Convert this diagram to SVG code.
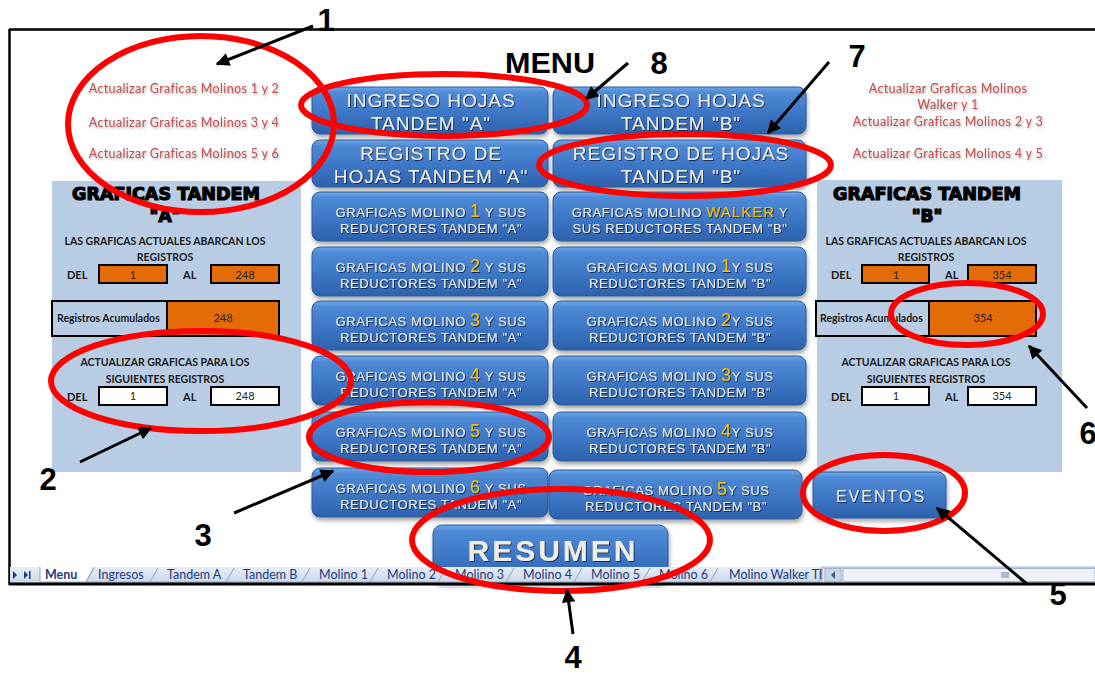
<svg xmlns="http://www.w3.org/2000/svg" width="1095" height="673" viewBox="0 0 1095 673">
<style>
.bg{fill:#ffffff}
.frame{stroke:#000;fill:none}
.panel{fill:#b8cce4}
.link{font-family:Lato,"Liberation Sans",sans-serif;font-size:12.5px;fill:#c0504d;letter-spacing:0.35px;text-anchor:middle;filter:url(#lshadow)}
.ph{font-family:"DejaVu Sans","Liberation Sans",sans-serif;font-weight:bold;font-size:17px;fill:#000;stroke:#000;stroke-width:1.2;text-anchor:middle}
.pt{font-family:Lato,"Liberation Sans",sans-serif;font-weight:bold;font-size:10.5px;fill:#1a1a1a;text-anchor:middle}
.pl{font-family:Lato,"Liberation Sans",sans-serif;font-weight:bold;font-size:11px;fill:#1a1a1a}
.ra{font-family:Lato,"Liberation Sans",sans-serif;font-weight:bold;font-size:10.5px;fill:#1a1a1a}
.num{font-family:Lato,"Liberation Sans",sans-serif;font-size:11px;fill:#222;text-anchor:middle}
.org{fill:#e36c09;stroke:#000;stroke-width:2}
.wht{fill:#fff;stroke:#000;stroke-width:2}
.lbx{fill:#b8cce4;stroke:#000;stroke-width:2}
.btn rect{fill:url(#bgrad);stroke:#2a5a9e;stroke-width:1;filter:url(#bshadow)}
.bt{font-family:"Liberation Sans",Arial,sans-serif;font-size:13px;letter-spacing:0.6px;fill:#eeeee6;text-anchor:middle;filter:url(#tshadow)}
.bb{font-family:"Liberation Sans",Arial,sans-serif;font-size:19px;letter-spacing:1px;fill:#eeeee6;text-anchor:middle;filter:url(#tshadow)}
.ev{font-family:"Liberation Sans",Arial,sans-serif;font-size:16px;letter-spacing:2px;fill:#eeeee6;text-anchor:middle;filter:url(#tshadow)}
.rs{font-family:"Liberation Sans",Arial,sans-serif;font-size:30px;font-weight:bold;letter-spacing:3px;fill:#eeeee6;text-anchor:middle;filter:url(#tshadow)}
.y{fill:#f2c200;font-size:18px}
.w{fill:#f2c200;font-size:15px;letter-spacing:1px}
.ell{fill:none;stroke:#ff0000;stroke-width:6}
.arr{stroke:#000;stroke-width:3;fill:none;marker-end:url(#ah)}
.lab{font-family:"Liberation Sans",Arial,sans-serif;font-weight:bold;font-size:31px;fill:#000;text-anchor:middle}
.tab{font-family:Lato,"Liberation Sans",sans-serif;font-size:12.5px;fill:#1f3b78}
.sep{stroke:#8ea4c4;stroke-width:1;fill:none}
</style>
<defs>
<linearGradient id="bgrad" x1="0" y1="0" x2="0" y2="1">
<stop offset="0" stop-color="#6ea6e6"/>
<stop offset="0.12" stop-color="#4f8ad6"/>
<stop offset="0.6" stop-color="#3b74c4"/>
<stop offset="1" stop-color="#2d62ad"/>
</linearGradient>
<linearGradient id="tabg" x1="0" y1="0" x2="0" y2="1">
<stop offset="0" stop-color="#e6edf7"/>
<stop offset="1" stop-color="#c9d7ea"/>
</linearGradient>
<filter id="bshadow" x="-10%" y="-20%" width="120%" height="150%">
<feDropShadow dx="1" dy="3" stdDeviation="2" flood-color="#000" flood-opacity="0.35"/>
</filter>
<filter id="tshadow" x="-10%" y="-30%" width="120%" height="160%">
<feDropShadow dx="1" dy="1" stdDeviation="0.7" flood-color="#10243f" flood-opacity="0.85"/>
</filter>
<filter id="lshadow" x="-10%" y="-30%" width="120%" height="160%">
<feDropShadow dx="1" dy="1.5" stdDeviation="0.8" flood-color="#777" flood-opacity="0.6"/>
</filter>
<marker id="ah" viewBox="0 0 10 10" refX="9" refY="5" markerWidth="5.5" markerHeight="4.5" orient="auto" markerUnits="strokeWidth">
<path d="M0,0 L10,5 L0,10 z" fill="#000"/>
</marker>
</defs>

<rect class="bg" x="0" y="0" width="1095" height="673"/>

<!-- sheet frame -->
<g id="frame">
<line class="frame" x1="9" y1="29.5" x2="1095" y2="29.5" stroke-width="2.5"/>
<line class="frame" x1="9.5" y1="29" x2="9.5" y2="585" stroke-width="2.5"/>
</g>

<!-- title -->
<g id="title">
<text x="550" y="73" font-family="'Liberation Sans',Arial,sans-serif" font-weight="bold" font-size="29" text-anchor="middle" textLength="90" lengthAdjust="spacingAndGlyphs">MENU</text>
</g>

<!-- links left -->
<g id="links-left">
<text class="link" x="184" y="93">Actualizar Graficas Molinos 1 y 2</text>
<text class="link" x="184" y="127">Actualizar Graficas Molinos 3 y 4</text>
<text class="link" x="184" y="158">Actualizar Graficas Molinos 5 y 6</text>
</g>
<!-- links right -->
<g id="links-right">
<text class="link" x="948" y="93">Actualizar Graficas Molinos</text>
<text class="link" x="948" y="109">Walker y 1</text>
<text class="link" x="948" y="126">Actualizar Graficas Molinos 2 y 3</text>
<text class="link" x="948" y="158">Actualizar Graficas Molinos 4 y 5</text>
</g>

<!-- left panel -->
<g id="panel-a">
<rect class="panel" x="52" y="181" width="249" height="291"/>
<text class="ph" x="166" y="200" textLength="188" lengthAdjust="spacingAndGlyphs">GRAFICAS TANDEM</text>
<text class="ph" x="165" y="222">"A"</text>
<text class="pt" x="165" y="245">LAS GRAFICAS ACTUALES ABARCAN LOS</text>
<text class="pt" x="165" y="261">REGISTROS</text>
<text class="pl" x="67" y="279">DEL</text>
<rect class="org" x="99" y="265" width="68" height="18"/>
<text class="num" x="133" y="279">1</text>
<text class="pl" x="183" y="279">AL</text>
<rect class="org" x="211" y="265" width="68" height="18"/>
<text class="num" x="245" y="279">248</text>
<rect class="lbx" x="52" y="301" width="115" height="35"/>
<rect class="org" x="167" y="301" width="112" height="35"/>
<text class="ra" x="57" y="322">Registros Acumulados</text>
<text class="num" x="223" y="322">248</text>
<text class="pt" x="165" y="366">ACTUALIZAR GRAFICAS PARA LOS</text>
<text class="pt" x="165" y="383">SIGUIENTES REGISTROS</text>
<text class="pl" x="67" y="401">DEL</text>
<rect class="wht" x="99" y="387" width="68" height="18"/>
<text class="num" x="133" y="400">1</text>
<text class="pl" x="183" y="401">AL</text>
<rect class="wht" x="211" y="387" width="68" height="18"/>
<text class="num" x="245" y="400">248</text>
</g>

<!-- right panel -->
<g id="panel-b">
<rect class="panel" x="817" y="180" width="245" height="292"/>
<text class="ph" x="927" y="200" textLength="188" lengthAdjust="spacingAndGlyphs">GRAFICAS TANDEM</text>
<text class="ph" x="927" y="222">"B"</text>
<text class="pt" x="926" y="245">LAS GRAFICAS ACTUALES ABARCAN LOS</text>
<text class="pt" x="926" y="261">REGISTROS</text>
<text class="pl" x="831" y="279">DEL</text>
<rect class="org" x="862" y="265" width="67" height="18"/>
<text class="num" x="896" y="279">1</text>
<text class="pl" x="945" y="279">AL</text>
<rect class="org" x="968" y="265" width="68" height="18"/>
<text class="num" x="1002" y="279">354</text>
<rect class="lbx" x="816" y="301" width="113" height="35"/>
<rect class="org" x="929" y="301" width="107" height="35"/>
<text class="ra" x="820" y="322">Registros Acumulados</text>
<text class="num" x="983" y="322">354</text>
<text class="pt" x="926" y="366">ACTUALIZAR GRAFICAS PARA LOS</text>
<text class="pt" x="926" y="383">SIGUIENTES REGISTROS</text>
<text class="pl" x="831" y="401">DEL</text>
<rect class="wht" x="862" y="387" width="67" height="18"/>
<text class="num" x="896" y="400">1</text>
<text class="pl" x="945" y="401">AL</text>
<rect class="wht" x="968" y="387" width="68" height="18"/>
<text class="num" x="1002" y="400">354</text>
</g>

<!-- buttons -->
<g id="btn-ingreso-a" class="btn"><rect x="312" y="87" width="236" height="47" rx="8"/>
<text class="bb" x="431" y="107">INGRESO HOJAS</text><text class="bb" x="431" y="130">TANDEM "A"</text></g>
<g id="btn-ingreso-b" class="btn"><rect x="553" y="87" width="253" height="47" rx="8"/>
<text class="bb" x="681" y="107">INGRESO HOJAS</text><text class="bb" x="681" y="130">TANDEM "B"</text></g>

<g id="btn-registro-a" class="btn"><rect x="312" y="140" width="236" height="47" rx="8"/>
<text class="bb" x="431" y="160">REGISTRO DE</text><text class="bb" x="431" y="183">HOJAS TANDEM "A"</text></g>
<g id="btn-registro-b" class="btn"><rect x="553" y="140" width="253" height="47" rx="8"/>
<text class="bb" x="681" y="160">REGISTRO DE HOJAS</text><text class="bb" x="681" y="183">TANDEM "B"</text></g>

<g id="btn-m1-a" class="btn"><rect x="312" y="192" width="236" height="49" rx="8"/>
<text class="bt" x="431" y="217">GRAFICAS MOLINO <tspan class="y">1</tspan> Y SUS</text><text class="bt" x="431" y="233">REDUCTORES TANDEM "A"</text></g>
<g id="btn-walker-b" class="btn"><rect x="553" y="192" width="253" height="49" rx="8"/>
<text class="bt" x="680" y="217">GRAFICAS MOLINO <tspan class="w">WALKER</tspan> Y</text><text class="bt" x="680" y="233">SUS REDUCTORES  TANDEM "B"</text></g>

<g id="btn-m2-a" class="btn"><rect x="312" y="247" width="236" height="49" rx="8"/>
<text class="bt" x="431" y="272">GRAFICAS MOLINO <tspan class="y">2</tspan> Y SUS</text><text class="bt" x="431" y="288">REDUCTORES TANDEM "A"</text></g>
<g id="btn-m1-b" class="btn"><rect x="553" y="247" width="253" height="49" rx="8"/>
<text class="bt" x="680" y="272">GRAFICAS MOLINO <tspan class="y">1</tspan>Y SUS</text><text class="bt" x="680" y="288">REDUCTORES  TANDEM "B"</text></g>

<g id="btn-m3-a" class="btn"><rect x="312" y="301" width="236" height="49" rx="8"/>
<text class="bt" x="431" y="326">GRAFICAS MOLINO <tspan class="y">3</tspan> Y SUS</text><text class="bt" x="431" y="342">REDUCTORES TANDEM "A"</text></g>
<g id="btn-m2-b" class="btn"><rect x="553" y="301" width="253" height="49" rx="8"/>
<text class="bt" x="680" y="326">GRAFICAS MOLINO <tspan class="y">2</tspan>Y SUS</text><text class="bt" x="680" y="342">REDUCTORES  TANDEM "B"</text></g>

<g id="btn-m4-a" class="btn"><rect x="312" y="356" width="236" height="49" rx="8"/>
<text class="bt" x="431" y="381">GRAFICAS MOLINO <tspan class="y">4</tspan> Y SUS</text><text class="bt" x="431" y="397">REDUCTORES TANDEM "A"</text></g>
<g id="btn-m3-b" class="btn"><rect x="553" y="356" width="253" height="49" rx="8"/>
<text class="bt" x="680" y="381">GRAFICAS MOLINO <tspan class="y">3</tspan>Y SUS</text><text class="bt" x="680" y="397">REDUCTORES  TANDEM "B"</text></g>

<g id="btn-m5-a" class="btn"><rect x="312" y="412" width="236" height="49" rx="8"/>
<text class="bt" x="431" y="437">GRAFICAS MOLINO <tspan class="y">5</tspan> Y SUS</text><text class="bt" x="431" y="453">REDUCTORES TANDEM "A"</text></g>
<g id="btn-m4-b" class="btn"><rect x="553" y="412" width="253" height="49" rx="8"/>
<text class="bt" x="680" y="437">GRAFICAS MOLINO <tspan class="y">4</tspan>Y SUS</text><text class="bt" x="680" y="453">REDUCTORES  TANDEM "B"</text></g>

<g id="btn-m6-a" class="btn"><rect x="312" y="468" width="236" height="49" rx="8"/>
<text class="bt" x="431" y="493">GRAFICAS MOLINO <tspan class="y">6</tspan> Y SUS</text><text class="bt" x="431" y="509">REDUCTORES TANDEM "A"</text></g>
<g id="btn-m5-b" class="btn"><rect x="549" y="470" width="253" height="49" rx="8"/>
<text class="bt" x="676" y="495">GRAFICAS MOLINO <tspan class="y">5</tspan>Y SUS</text><text class="bt" x="676" y="511">REDUCTORES  TANDEM "B"</text></g>

<g id="btn-eventos" class="btn"><rect x="813" y="472" width="133" height="46" rx="8"/>
<text class="ev" x="881" y="502">EVENTOS</text></g>

<g id="btn-resumen" class="btn"><rect x="433" y="525" width="235" height="58" rx="9"/>
<text class="rs" x="553" y="561">RESUMEN</text></g>

<!-- sheet tabs bar -->
<g id="tabbar">
<rect x="10" y="567" width="812" height="16" fill="url(#tabg)"/>
<path d="M13,571 L17,575 L13,579 z" fill="#1f3b78"/>
<path d="M24,571 L28,575 L24,579 z M29,571 h1.5 v8 h-1.5 z" fill="#1f3b78"/>
<path d="M40,567 L40,582 L86,582 L94,567" fill="#fff" stroke="#8ea4c4"/>
<text class="tab" x="45" y="579" font-weight="bold">Menu</text>
<path class="sep" d="M86,582 L94,568 M150,582 L158,568 M226,582 L234,568 M302,582 L310,568 M370,582 L378,568 M438,582 L446,568 M506,582 L514,568 M574,582 L582,568 M642,582 L650,568 M710,582 L718,568 M820,582 L820,568"/>
<path class="sep" d="M86,582 H820"/>
<text class="tab" x="98" y="579">Ingresos</text>
<text class="tab" x="167" y="579">Tandem A</text>
<text class="tab" x="243" y="579">Tandem B</text>
<text class="tab" x="319" y="579">Molino 1</text>
<text class="tab" x="387" y="579">Molino 2</text>
<text class="tab" x="455" y="579">Molino 3</text>
<text class="tab" x="523" y="579">Molino 4</text>
<text class="tab" x="591" y="579">Molino 5</text>
<text class="tab" x="659" y="579">Molino 6</text>
<text class="tab" x="729" y="579">Molino Walker TE</text>
<rect x="822" y="567" width="273" height="16" fill="#dfe7f2" stroke="#9fb3cf"/>
<rect x="825" y="568.5" width="16" height="13" fill="#c8d6ea" stroke="#9fb3cf"/>
<path d="M835,571 L831,575 L835,579 z" fill="#44597a"/>
<rect x="843" y="568.5" width="252" height="13" fill="#eef2f8" stroke="#9fb3cf"/>
<path d="M1002,572 v6 M1004,572 v6 M1006,572 v6 M1008,572 v6" stroke="#6f84a4" stroke-width="1"/>
<line x1="9" y1="584" x2="1095" y2="584" stroke="#000" stroke-width="3"/>
</g>

<!-- annotations: red ellipses -->
<g id="highlights">
<ellipse class="ell" cx="201" cy="124" rx="133" ry="88"/>
<ellipse class="ell" cx="201" cy="381" rx="150" ry="50"/>
<ellipse class="ell" cx="429" cy="437" rx="120" ry="35"/>
<ellipse class="ell" cx="561" cy="540" rx="149" ry="51"/>
<ellipse class="ell" cx="884" cy="493" rx="81" ry="38"/>
<ellipse class="ell" cx="967" cy="314" rx="76" ry="31"/>
<ellipse class="ell" cx="685" cy="165" rx="146" ry="31"/>
<ellipse class="ell" cx="444" cy="105" rx="143" ry="31"/>
</g>

<!-- connectors -->
<g id="connectors">
<line class="arr" x1="313" y1="26" x2="217" y2="64"/>
<line class="arr" x1="80" y1="462" x2="151" y2="428"/>
<line class="arr" x1="234" y1="513" x2="333" y2="471"/>
<line class="arr" x1="573" y1="634" x2="567" y2="590"/>
<line class="arr" x1="1027" y1="584" x2="937" y2="508"/>
<line class="arr" x1="1087" y1="408" x2="1029" y2="346"/>
<line class="arr" x1="829" y1="62" x2="768" y2="133"/>
<line class="arr" x1="628" y1="63" x2="586" y2="99"/>
</g>

<!-- annotation numbers -->
<g id="labels">
<text class="lab" x="326" y="31">1</text>
<text class="lab" x="48" y="490">2</text>
<text class="lab" x="203" y="546">3</text>
<text class="lab" x="573" y="668">4</text>
<text class="lab" x="1058" y="605">5</text>
<text class="lab" x="1088" y="444">6</text>
<text class="lab" x="857" y="67">7</text>
<text class="lab" x="659" y="74">8</text>
</g>
</svg>
